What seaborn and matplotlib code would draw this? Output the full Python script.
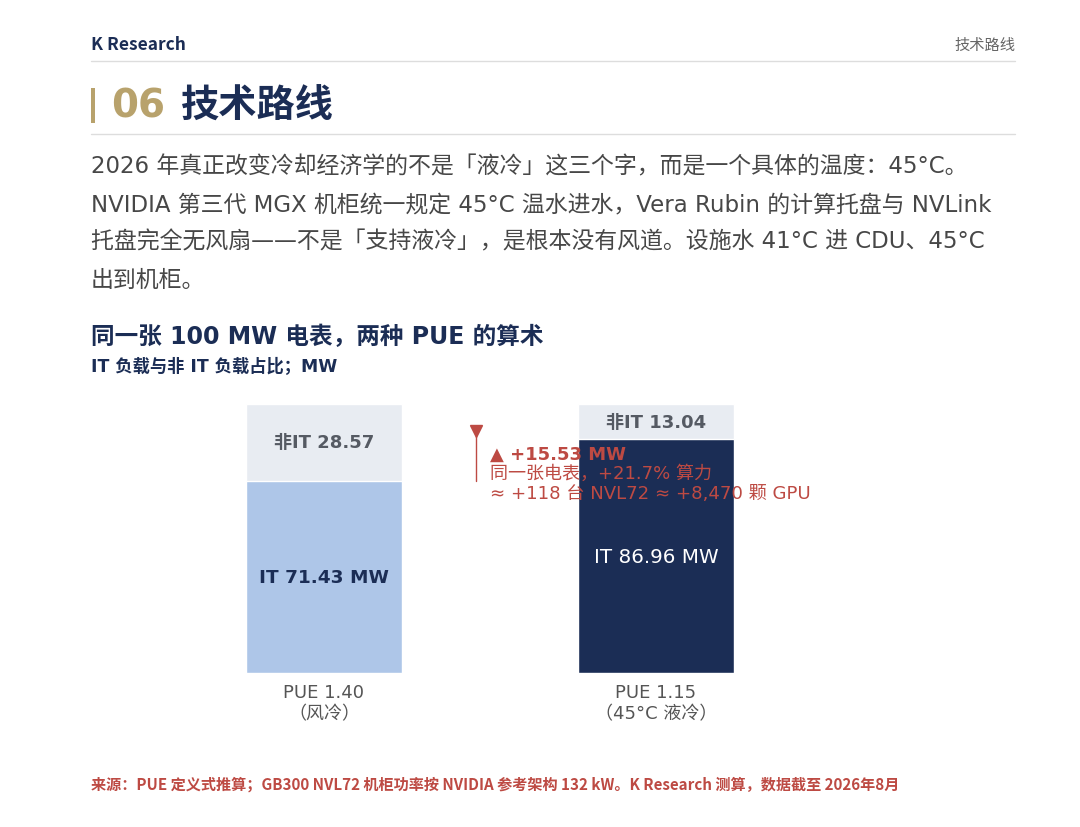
import matplotlib
matplotlib.use("Agg")
import matplotlib.pyplot as plt
import seaborn as sns
import pandas as pd

# ---- data ----
categories = ["PUE 1.40\n（风冷）", "PUE 1.15\n（45°C 液冷）"]
total_mw = [100.0, 100.0]
it_mw = [71.43, 86.96]
non_it_mw = [28.57, 13.04]
it_labels = ["IT 71.43 MW", "IT 86.96 MW"]
non_it_labels = ["非IT 28.57", "非IT 13.04"]
delta_lines = ["▲ +15.53 MW", "同一张电表，+21.7% 算力", "≈ +118 台 NVL72 ≈ +8,470 颗 GPU"]

sns.set_theme(style="white")
MAIN = ['DejaVu Sans', 'Noto Sans CJK SC']
NOTO = ['Noto Sans CJK SC', 'DejaVu Sans']
plt.rcParams['font.family'] = MAIN

NAVY = "#1b2d55"
LIGHT = "#aec6e8"
GREY_BG = "#e8ecf2"
GOLD = "#b8a26c"
RED = "#bd4a43"
TXT = "#474747"

W, H = 1080, 828
fig = plt.figure(figsize=(W / 100, H / 100), dpi=100)
fig.patch.set_facecolor("white")

def fx(px):
    return px / W

def fy(py):
    return 1 - py / H

# header
fig.text(fx(91), fy(45), "K Research", fontsize=12.5, fontweight="bold", color=NAVY, va="center", ha="left", family=NOTO)
fig.text(fx(1015), fy(45), "技术路线", fontsize=11, color="#666666", va="center", ha="right", family=NOTO)
fig.add_artist(plt.Line2D([fx(91), fx(1015)], [fy(62), fy(62)], color="#dddddd", lw=1))

# title
fig.add_artist(plt.Rectangle((fx(91), fy(124)), fx(4), 35 / H, color=GOLD, lw=0))
fig.text(fx(111), fy(106), "06", fontsize=28, fontweight="bold", color=GOLD, va="center", ha="left")
fig.text(fx(181), fy(106), "技术路线", fontsize=27.5, fontweight="bold", color=NAVY, va="center", ha="left", family=NOTO)
fig.add_artist(plt.Line2D([fx(91), fx(1015)], [fy(135), fy(135)], color="#dddddd", lw=1))

para = [
    "2026 年真正改变冷却经济学的不是「液冷」这三个字，而是一个具体的温度：45°C。",
    "NVIDIA 第三代 MGX 机柜统一规定 45°C 温水进水，Vera Rubin 的计算托盘与 NVLink",
    "托盘完全无风扇——不是「支持液冷」，是根本没有风道。设施水 41°C 进 CDU、45°C",
    "出到机柜。",
]
for i, line in enumerate(para):
    fig.text(fx(91), fy(167 + i * 37.7), line, fontsize=16.5, color=TXT, va="center", ha="left")

fig.text(fx(91), fy(337), "同一张 100 MW 电表，两种 PUE 的算术", fontsize=17, fontweight="bold", color=NAVY, va="center", ha="left")
fig.text(fx(91), fy(367), "IT 负载与非 IT 负载占比；MW", fontsize=12.4, fontweight="bold", color=NAVY, va="center", ha="left")

# chart axes: bars at px 246-402 and 578-734, y 0 at px 674, 100 at px 405
ax_l, ax_r = 200, 850
ax = fig.add_axes([fx(ax_l), fy(674), (ax_r - ax_l) / W, 269 / H])
df = pd.DataFrame({"cat": categories, "total": total_mw, "it": it_mw})
bw = 156 / 332
sns.barplot(data=df, x="cat", y="total", color=GREY_BG, width=bw, ax=ax, saturation=1)
sns.barplot(data=df, x="cat", y="it", hue="cat", palette=[LIGHT, NAVY], width=bw, ax=ax,
            saturation=1, legend=False, dodge=False)
ax.set_xlim(-(324 - ax_l) / 332, 1 + (ax_r - 656) / 332)
ax.set_ylim(0, 100)
ax.set_xlabel("")
ax.set_ylabel("")
ax.set_yticks([])
ax.tick_params(axis="x", length=0, pad=7)
for lab in ax.get_xticklabels():
    lab.set_fontsize(13)
    lab.set_color("#555555")
    lab.set_linespacing(1.25)
sns.despine(ax=ax, left=True, bottom=True)
ax.patch.set_alpha(0)

for i in range(2):
    ax.text(i, it_mw[i] + non_it_mw[i] / 2, non_it_labels[i], ha="center", va="center",
            fontsize=13, fontweight="bold", color="#555a63")
    ax.text(i, it_mw[i] / 2, it_labels[i], ha="center", va="center",
            fontsize=13.3 if i == 0 else 14.3, fontweight="bold" if i == 0 else "normal",
            color=NAVY if i == 0 else "white")

# delta annotation
xa = (476 - 324) / 332
ax.plot([xa, xa], [it_mw[0], it_mw[1] + 3], color=RED, lw=1.0, clip_on=False)
ax.plot([xa], [it_mw[1] + 3], marker="v", color=RED, markersize=8, clip_on=False)
xt = (490 - 324) / 332
ax.text(xt, (674 - 455) / 2.69, delta_lines[0], fontsize=13, fontweight="bold", color=RED, va="center", ha="left")
ax.text(xt, (674 - 474) / 2.69, delta_lines[1], fontsize=13, color=RED, va="center", ha="left")
ax.text(xt, (674 - 494) / 2.69, delta_lines[2], fontsize=13.1, color=RED, va="center", ha="left")

fig.text(fx(91), fy(785), "来源：PUE 定义式推算；GB300 NVL72 机柜功率按 NVIDIA 参考架构 132 kW。K Research 测算，数据截至 2026年8月",
         fontsize=10.9, fontweight="bold", color=RED, va="center", ha="left", family=NOTO)

fig.savefig("out.png", dpi=100, facecolor="white")
